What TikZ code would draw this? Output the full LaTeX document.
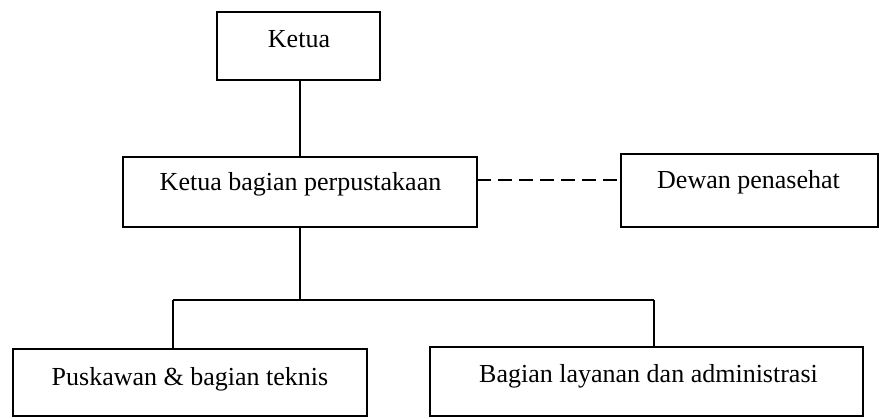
\documentclass[tikz,border=0pt]{standalone}
\usepackage{fontspec}
\setmainfont{Liberation Serif}
\begin{document}
\begin{tikzpicture}[x=1pt,y=-1pt,
  orgbox/.style={draw, line width=1.6pt, rectangle, inner sep=0pt, outer sep=0pt},
  boxtext/.style={anchor=base, inner sep=0pt, font=\fontsize{26}{30}\selectfont},
  link/.style={line width=1.6pt},
  adviselink/.style={line width=1.6pt, dash pattern=on 14pt off 7pt}]
  \useasboundingbox (0,0) rectangle (881,418);

  % boxes
  \node[orgbox, minimum width=163pt, minimum height=68pt] (ketua) at (298.5,46) {};
  \node[orgbox, minimum width=354pt, minimum height=70pt] (kabag) at (300,192) {};
  \node[orgbox, minimum width=257pt, minimum height=73pt] (dewan) at (749.5,190.5) {};
  \node[orgbox, minimum width=354pt, minimum height=67pt] (teknis) at (190,382.5) {};
  \node[orgbox, minimum width=433pt, minimum height=69pt] (layanan) at (646.5,381.5) {};

  % labels
  \node[boxtext] (ketuaT) at (299,47) {Ketua};
  \node[boxtext] (kabagT) at (300.5,190) {Ketua bagian perpustakaan};
  \node[boxtext] (dewanT) at (748.5,188) {Dewan penasehat};
  \node[boxtext] (teknisT) at (190,385) {Puskawan \& bagian teknis};
  \node[boxtext] (layananT) at (648.5,382) {Bagian layanan dan administrasi};

  % branch points
  \coordinate (bus) at (300,300);
  \coordinate (dropL) at (173,300);
  \coordinate (dropR) at (654,300);

  % connectors
  \draw[link] (ketua.south -| kabag.north) -- (kabag.north);
  \draw[link] (kabag.south) -- (bus);
  \draw[link] (dropL) -- (dropR);
  \draw[link] (dropL) -- (dropL |- teknis.north);
  \draw[link] (dropR) -- (dropR |- layanan.north);
  \draw[adviselink] (kabag.east |- 0,180) -- (dewan.west |- 0,180);
\end{tikzpicture}
\end{document}
